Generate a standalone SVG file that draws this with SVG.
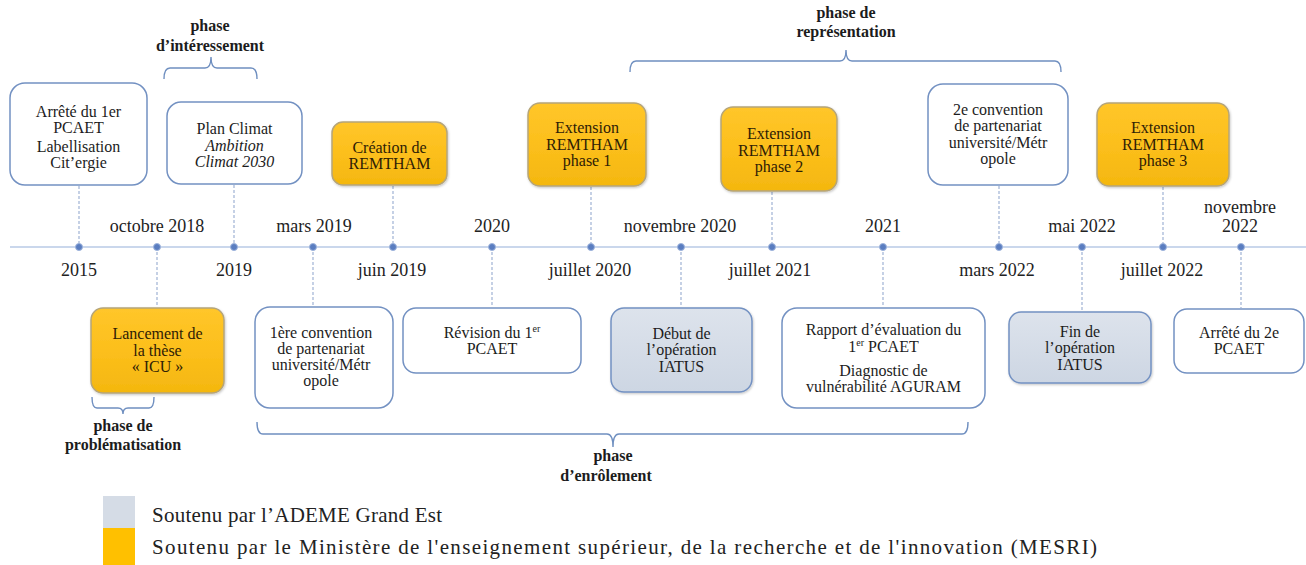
<svg xmlns="http://www.w3.org/2000/svg" width="1306" height="565" viewBox="0 0 1306 565" font-family="'Liberation Serif', 'Times New Roman', serif">
<defs>
<linearGradient id="gOr" x1="0" y1="0" x2="0" y2="1">
<stop offset="0" stop-color="#ffc62a"/><stop offset="0.5" stop-color="#fcbf1c"/><stop offset="1" stop-color="#f4b70f"/>
</linearGradient>
<linearGradient id="gGr" x1="0" y1="0" x2="0" y2="1">
<stop offset="0" stop-color="#dde3ec"/><stop offset="1" stop-color="#cdd6e3"/>
</linearGradient>
<filter id="sh" x="-10%" y="-10%" width="120%" height="125%">
<feDropShadow dx="0.8" dy="1.2" stdDeviation="1" flood-color="#000" flood-opacity="0.22"/>
</filter>
<style>
.wb{fill:#ffffff;stroke:#7391c2;stroke-width:1.5}
.ob{fill:url(#gOr);stroke:#b5a57a;stroke-width:1.5;filter:url(#sh)}
.gb{fill:url(#gGr);stroke:#7391c2;stroke-width:1.5;filter:url(#sh)}
.t{font-family:'Liberation Serif','Times New Roman',serif;font-size:16px;fill:#1c1c1c;text-anchor:middle}
.ot{fill:#2e2005}
.lab{font-family:'Liberation Serif','Times New Roman',serif;font-size:18px;fill:#222;text-anchor:middle}
.ph{font-family:'Liberation Serif','Times New Roman',serif;font-size:16px;font-weight:bold;fill:#1c1c1c;text-anchor:middle}
.leg{font-family:'Liberation Serif','Times New Roman',serif;font-size:21px;fill:#222}
.ax{stroke:#cad7ec;stroke-width:2;fill:none}
.dash{stroke:#9fb2d4;stroke-width:1.2;stroke-dasharray:3 2;fill:none}
.dot{fill:#5a7dc0;stroke:#9db3dc;stroke-width:1}
.br{stroke:#6f8fc0;stroke-width:1.4;fill:none}
.sup{font-size:10px}
</style>
</defs>
<rect x="0" y="0" width="1306" height="565" fill="#ffffff"/>

<g id="connectors">
<line class="ax" x1="10" y1="247" x2="1306" y2="247"/>
<line class="dash" x1="79" y1="186" x2="79" y2="247"/>
<line class="dash" x1="234" y1="185" x2="234" y2="247"/>
<line class="dash" x1="393" y1="186" x2="393" y2="247"/>
<line class="dash" x1="591" y1="187" x2="591" y2="247"/>
<line class="dash" x1="772" y1="192" x2="772" y2="247"/>
<line class="dash" x1="999" y1="186" x2="999" y2="247"/>
<line class="dash" x1="1163" y1="187" x2="1163" y2="247"/>
<line class="dash" x1="157" y1="247" x2="157" y2="307"/>
<line class="dash" x1="313" y1="247" x2="313" y2="306"/>
<line class="dash" x1="492" y1="247" x2="492" y2="307"/>
<line class="dash" x1="681" y1="247" x2="681" y2="307"/>
<line class="dash" x1="883" y1="247" x2="883" y2="307"/>
<line class="dash" x1="1082" y1="247" x2="1082" y2="311"/>
<line class="dash" x1="1241" y1="247" x2="1241" y2="308"/>
<circle class="dot" cx="79" cy="247" r="3.5"/>
<circle class="dot" cx="157" cy="247" r="3.5"/>
<circle class="dot" cx="234" cy="247" r="3.5"/>
<circle class="dot" cx="313" cy="247" r="3.5"/>
<circle class="dot" cx="393" cy="247" r="3.5"/>
<circle class="dot" cx="492" cy="247" r="3.5"/>
<circle class="dot" cx="591" cy="247" r="3.5"/>
<circle class="dot" cx="681" cy="247" r="3.5"/>
<circle class="dot" cx="772" cy="247" r="3.5"/>
<circle class="dot" cx="883" cy="247" r="3.5"/>
<circle class="dot" cx="999" cy="247" r="3.5"/>
<circle class="dot" cx="1082" cy="247" r="3.5"/>
<circle class="dot" cx="1163" cy="247" r="3.5"/>
<circle class="dot" cx="1241" cy="247" r="3.5"/>
</g>

<g id="dates">
<text class="lab" x="79" y="276">2015</text>
<text class="lab" x="157" y="232">octobre 2018</text>
<text class="lab" x="234" y="276">2019</text>
<text class="lab" x="314" y="232">mars 2019</text>
<text class="lab" x="392" y="276">juin 2019</text>
<text class="lab" x="492" y="232">2020</text>
<text class="lab" x="590" y="276">juillet 2020</text>
<text class="lab" x="680" y="232">novembre 2020</text>
<text class="lab" x="770" y="276">juillet 2021</text>
<text class="lab" x="883" y="232">2021</text>
<text class="lab" x="997" y="276">mars 2022</text>
<text class="lab" x="1082" y="232">mai 2022</text>
<text class="lab" x="1162" y="276">juillet 2022</text>
<text class="lab" x="1240" y="213">novembre</text>
<text class="lab" x="1240" y="232">2022</text>
</g>

<g id="phases">
<path class="br" d="M164,79 Q164,68 170,68 H205 Q211,68 211,57 Q211,68 217,68 H251 Q257,68 257,79"/>
<text class="ph" x="210" y="31">phase</text>
<text class="ph" x="210" y="51">d’intéressement</text>
<path class="br" d="M630,72 Q630,61 636,61 H840 Q846,61 846,50 Q846,61 852,61 H1055 Q1061,61 1061,72"/>
<text class="ph" x="846" y="18">phase de</text>
<text class="ph" x="846" y="37">représentation</text>
<path class="br" d="M92,397 Q92,408 97,408 H118 Q123,408 123,414 Q123,408 128,408 H149 Q154,408 154,397"/>
<text class="ph" x="123" y="431">phase de</text>
<text class="ph" x="123" y="450">problématisation</text>
<path class="br" d="M257,422 Q257,434 263,434 H607 Q613,434 613,447 Q613,434 619,434 H962 Q968,434 968,422"/>
<text class="ph" x="613" y="461">phase</text>
<text class="ph" x="606" y="481">d’enrôlement</text>
</g>

<g id="n-arrete1">
<rect class="wb" x="10" y="83" width="137" height="102" rx="15"/>
<text class="t" x="78.5" y="117">Arrêté du 1er</text>
<text class="t" x="78.5" y="133">PCAET</text>
<text class="t" x="78.5" y="152">Labellisation</text>
<text class="t" x="78.5" y="168">Cit’ergie</text>
</g>
<g id="n-planclimat">
<rect class="wb" x="167" y="102" width="135" height="82" rx="14"/>
<text class="t" x="234.5" y="134">Plan Climat</text>
<text class="t" x="234.5" y="151" font-style="italic">Ambition</text>
<text class="t" x="234.5" y="167" font-style="italic">Climat 2030</text>
</g>
<g id="n-creation">
<rect class="ob" x="332" y="122" width="115" height="63" rx="11"/>
<text class="t ot" x="389.5" y="153">Création de</text>
<text class="t ot" x="389.5" y="169">REMTHAM</text>
</g>
<g id="n-ext1">
<rect class="ob" x="528" y="103" width="118" height="83" rx="12"/>
<text class="t ot" x="587" y="133">Extension</text>
<text class="t ot" x="587" y="150">REMTHAM</text>
<text class="t ot" x="587" y="166">phase 1</text>
</g>
<g id="n-ext2">
<rect class="ob" x="721" y="107" width="116" height="84" rx="12"/>
<text class="t ot" x="779" y="139">Extension</text>
<text class="t ot" x="779" y="156">REMTHAM</text>
<text class="t ot" x="779" y="172">phase 2</text>
</g>
<g id="n-conv2">
<rect class="wb" x="928" y="84" width="140" height="101" rx="15"/>
<text class="t" x="998" y="115">2e convention</text>
<text class="t" x="998" y="131">de partenariat</text>
<text class="t" x="998" y="148">université/Métr</text>
<text class="t" x="998" y="164">opole</text>
</g>
<g id="n-ext3">
<rect class="ob" x="1097" y="103" width="132" height="83" rx="12"/>
<text class="t ot" x="1163" y="133">Extension</text>
<text class="t ot" x="1163" y="150">REMTHAM</text>
<text class="t ot" x="1163" y="166">phase 3</text>
</g>
<g id="n-these">
<rect class="ob" x="91" y="308" width="133" height="85" rx="12"/>
<text class="t ot" x="157.5" y="339">Lancement de</text>
<text class="t ot" x="157.5" y="356">la thèse</text>
<text class="t ot" x="157.5" y="372">« ICU »</text>
</g>
<g id="n-conv1">
<rect class="wb" x="255" y="307" width="138" height="101" rx="15"/>
<text class="t" x="321" y="338">1ère convention</text>
<text class="t" x="321" y="354">de partenariat</text>
<text class="t" x="321" y="370">université/Métr</text>
<text class="t" x="321" y="386">opole</text>
</g>
<g id="n-revision">
<rect class="wb" x="403" y="308" width="178" height="65" rx="13"/>
<text class="t" x="492" y="338">Révision  du 1<tspan class="sup" dy="-6">er</tspan></text>
<text class="t" x="492" y="354">PCAET</text>
</g>
<g id="n-debut">
<rect class="gb" x="611" y="308" width="141" height="84" rx="13"/>
<text class="t" x="681.5" y="339">Début de</text>
<text class="t" x="681.5" y="355">l’opération</text>
<text class="t" x="681.5" y="372">IATUS</text>
</g>
<g id="n-rapport">
<rect class="wb" x="782" y="308" width="203" height="100" rx="15"/>
<text class="t" x="883.5" y="335">Rapport d’évaluation du</text>
<text class="t" x="883.5" y="352">1<tspan class="sup" dy="-6">er</tspan><tspan dy="6"> PCAET</tspan></text>
<text class="t" x="883.5" y="376">Diagnostic de</text>
<text class="t" x="883.5" y="392">vulnérabilité AGURAM</text>
</g>
<g id="n-fin">
<rect class="gb" x="1009" y="312" width="142" height="71" rx="12"/>
<text class="t" x="1080" y="337">Fin de</text>
<text class="t" x="1080" y="353">l’opération</text>
<text class="t" x="1080" y="370">IATUS</text>
</g>
<g id="n-arrete2">
<rect class="wb" x="1174" y="309" width="130" height="64" rx="13"/>
<text class="t" x="1239" y="338">Arrêté du 2e</text>
<text class="t" x="1239" y="354">PCAET</text>
</g>

<g id="legend">
<rect x="103" y="496" width="32" height="32" fill="#d5dce6"/>
<rect x="103" y="528" width="32" height="37" fill="#ffc000"/>
<text class="leg" x="152" y="522" textLength="290" lengthAdjust="spacing">Soutenu par l’ADEME Grand Est</text>
<text class="leg" x="152" y="554" textLength="945" lengthAdjust="spacing">Soutenu par le Ministère de l'enseignement supérieur, de la recherche et de l'innovation (MESRI)</text>
</g>
</svg>
